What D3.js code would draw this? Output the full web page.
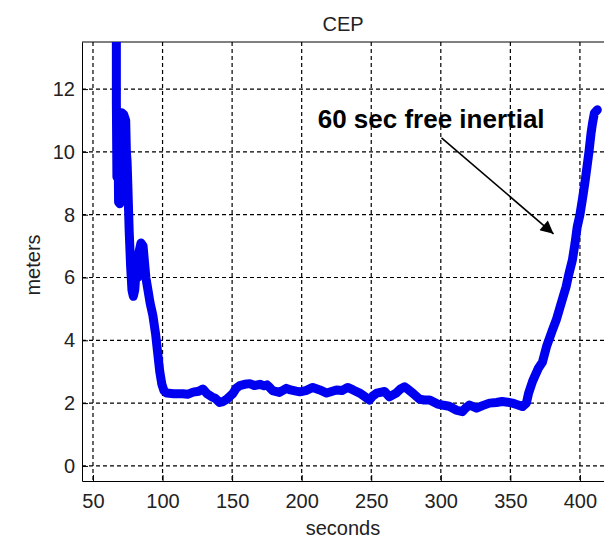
<!DOCTYPE html>
<html>
<head>
<meta charset="utf-8">
<script src="https://cdn.jsdelivr.net/npm/d3@7"></script>
<style>
  body { margin: 0; background: #fff; }
  svg { display: block; }
  text { font-family: "Liberation Sans", Arial, sans-serif; }
</style>
</head>
<body>
<svg id="chart"></svg>
<script>
// CEP error vs time
const seconds = [
  66.8, 66.8, 67.2, 67.8, 68.4, 69.2, 69.5, 70.5, 72, 73.5, 74, 74.5, 75, 76, 77, 78, 79,
  80, 81, 82, 83, 84.5, 86, 87, 88, 89.5, 91, 93, 95, 96.5, 98, 99.5, 101, 103,
  108, 114.6, 118, 122, 126, 129, 132, 135.4, 138, 141, 143.5, 146, 148, 150.5, 153,
  155.5, 159, 162.7, 166, 170, 173, 175, 177, 179, 184, 189, 192, 196, 198.6, 203,
  208, 213, 218, 225, 229, 233, 237, 241.7, 245, 248.8, 251, 254, 259.6, 263, 268,
  271, 274, 277, 279.7, 284.7, 288, 292, 297.7, 301, 306, 311, 315.6, 318, 320.6,
  325.7, 330, 335, 340, 344, 348, 351.5, 355, 358.7, 361.5, 363, 366, 370, 373,
  376, 380, 383, 386, 390, 392, 394.6, 396.5, 398, 400, 401.7, 403.5, 405, 406.5,
  408, 409, 410.4, 412.5
];
const meters = [
  14.5, 11.6, 9.2, 11.2, 8.4, 8.35, 10.5, 11.25, 11.2, 11.0, 10.0, 9.7, 9.0, 7.5, 6.4, 5.6, 5.4,
  5.6, 6.2, 6.0, 6.8, 7.1, 7.0, 6.5, 6.0, 5.6, 5.2, 4.8, 4.2, 3.6, 3.0, 2.6, 2.4, 2.32,
  2.3, 2.3, 2.28, 2.35, 2.38, 2.45, 2.3, 2.2, 2.15, 2.02, 2.05, 2.12, 2.2, 2.3, 2.48,
  2.56, 2.6, 2.62, 2.56, 2.6, 2.55, 2.58, 2.5, 2.4, 2.34, 2.47, 2.42, 2.38, 2.36, 2.4,
  2.5, 2.42, 2.32, 2.42, 2.4, 2.5, 2.42, 2.32, 2.22, 2.1, 2.22, 2.32, 2.37, 2.2, 2.32,
  2.45, 2.52, 2.42, 2.32, 2.13, 2.1, 2.1, 1.97, 1.94, 1.9, 1.78, 1.73, 1.85, 1.94,
  1.84, 1.92, 2.0, 2.02, 2.05, 2.03, 2.0, 1.95, 1.89, 2.0, 2.3, 2.7, 3.1, 3.3,
  3.8, 4.3, 4.65, 5.1, 5.7, 6.1, 6.56, 7.1, 7.6, 8.0, 8.47, 9.0, 9.5, 10.0,
  10.6, 10.9, 11.24, 11.34
];
const xTicks = [50, 100, 150, 200, 250, 300, 350, 400];
const yTicks = [0, 2, 4, 6, 8, 10, 12];

// annotation: text anchor and arrow ends, in data units
const noteText = "60 sec free inertial";
const notePos = [211.5, 10.76];
const arrowFrom = [300.5, 10.45];
const arrowTo = [381, 7.39];

const width = 604;
const height = 538;
const margin = {top: 42, right: 0, bottom: 57, left: 82};
const w = width - margin.left - margin.right;
const h = height - margin.top - margin.bottom;

const svg = d3.select('#chart')
  .attr('width', width)
  .attr('height', height);

svg.append('defs').append('clipPath')
  .attr('id', 'clip')
  .append('rect')
  .attr('width', w)
  .attr('height', h);

svg.append('defs').append('marker')
  .attr('id', 'head')
  .attr('viewBox', '0 0 10 10')
  .attr('refX', 10).attr('refY', 5)
  .attr('markerUnits', 'userSpaceOnUse')
  .attr('markerWidth', 16).attr('markerHeight', 13)
  .attr('orient', 'auto')
  .append('path')
  .attr('d', 'M0,0 L10,5 L0,10 Z')
  .attr('fill', 'black');

const g = svg.append('g')
  .attr('transform', `translate(${margin.left}, ${margin.top})`);

const xscale = d3.scaleLinear()
  .domain([42.1, 417.3])
  .range([0, w]);

const yscale = d3.scaleLinear()
  .domain([-0.48, 13.5])
  .range([h, 0]);

// dashed grid
g.selectAll('.vgrid').data(xTicks).enter().append('line')
  .attr('x1', d => xscale(d)).attr('x2', d => xscale(d))
  .attr('y1', 0).attr('y2', h)
  .attr('stroke', 'black')
  .attr('stroke-width', 1.2)
  .attr('stroke-dasharray', '4,3');

g.selectAll('.hgrid').data(yTicks).enter().append('line')
  .attr('x1', 0).attr('x2', w)
  .attr('y1', d => yscale(d)).attr('y2', d => yscale(d))
  .attr('stroke', 'black')
  .attr('stroke-width', 1.2)
  .attr('stroke-dasharray', '4,3');

const xaxis = d3.axisBottom(xscale)
  .tickValues(xTicks)
  .tickSizeInner(-6)
  .tickSizeOuter(0)
  .tickPadding(13);

const yaxis = d3.axisLeft(yscale)
  .tickValues(yTicks)
  .tickSizeInner(-6)
  .tickSizeOuter(0)
  .tickPadding(7);

const gx = g.append('g')
  .attr('transform', `translate(0, ${h})`)
  .call(xaxis);

const gy = g.append('g')
  .call(yaxis);

[gx, gy].forEach(a => {
  a.selectAll('text').attr('font-size', '20px').attr('fill', '#222')
    .attr('font-family', '"Liberation Sans", Arial, sans-serif');
  a.selectAll('line').attr('stroke', 'black');
  a.select('.domain').attr('stroke', 'black');
});

// top border of the box
g.append('line')
  .attr('x1', 0).attr('x2', w)
  .attr('y1', 0).attr('y2', 0)
  .attr('stroke', 'black');

const line = d3.line()
  .x(d => xscale(d[0]))
  .y(d => yscale(d[1]))
  .curve(d3.curveLinear);

g.append('path')
  .attr('clip-path', 'url(#clip)')
  .attr('d', line(d3.zip(seconds, meters)))
  .attr('stroke', '#0000f0')
  .attr('stroke-width', 9)
  .attr('stroke-linejoin', 'round')
  .attr('stroke-linecap', 'round')
  .attr('fill', 'none');

// titles
svg.append('text')
  .attr('x', margin.left + w / 2)
  .attr('y', 31)
  .attr('text-anchor', 'middle')
  .attr('font-size', '20px')
  .attr('fill', '#222')
  .text('CEP');

svg.append('text')
  .attr('x', margin.left + w / 2)
  .attr('y', 535)
  .attr('text-anchor', 'middle')
  .attr('font-size', '20px')
  .attr('fill', '#222')
  .text('seconds');

svg.append('text')
  .attr('transform', `translate(40, 265) rotate(-90)`)
  .attr('text-anchor', 'middle')
  .attr('font-size', '20px')
  .attr('fill', '#222')
  .text('meters');

// annotation
g.append('text')
  .attr('x', xscale(notePos[0]))
  .attr('y', yscale(notePos[1]))
  .attr('font-size', '26px')
  .attr('font-weight', 'bold')
  .attr('fill', 'black')
  .text(noteText);

g.append('line')
  .attr('x1', xscale(arrowFrom[0])).attr('y1', yscale(arrowFrom[1]))
  .attr('x2', xscale(arrowTo[0])).attr('y2', yscale(arrowTo[1]))
  .attr('stroke', 'black')
  .attr('stroke-width', 1.6)
  .attr('marker-end', 'url(#head)');
</script>
</body>
</html>
